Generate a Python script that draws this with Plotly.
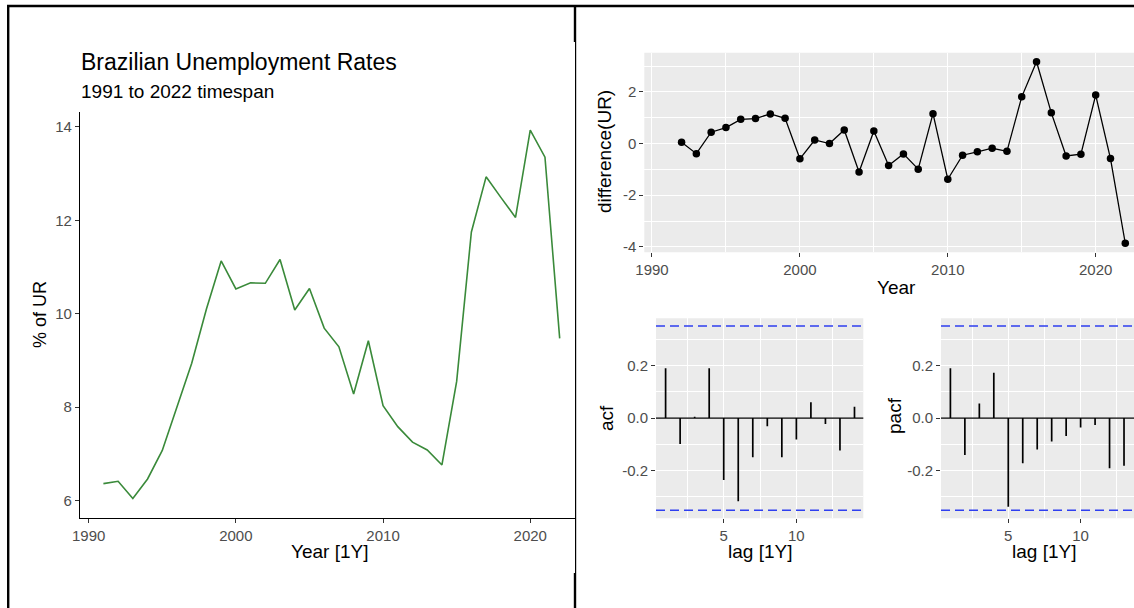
import plotly.graph_objects as go

# ---- data -------------------------------------------------------------
years = list(range(1991, 2023))
ur = [6.36, 6.41, 6.04, 6.46, 7.07, 8.00, 8.94, 10.10, 11.13, 10.53,
      10.66, 10.65, 11.16, 10.08, 10.54, 9.69, 9.29, 8.28, 9.42, 8.03,
      7.58, 7.25, 7.08, 6.76, 8.55, 11.75, 12.93, 12.49, 12.06, 13.93,
      13.35, 9.47]

diff_years = list(range(1992, 2023))
ur_diff = [0.05, -0.39, 0.44, 0.62, 0.94, 0.97, 1.15, 0.98, -0.59, 0.14,
           0.00, 0.53, -1.10, 0.49, -0.85, -0.40, -0.99, 1.16, -1.38, -0.45,
           -0.32, -0.18, -0.30, 1.81, 3.17, 1.19, -0.48, -0.41, 1.88, -0.58,
           -3.86]

acf_lags = list(range(1, 15))
acf_vals = [0.19, -0.099, 0.005, 0.19, -0.237, -0.318, -0.150, -0.031,
            -0.150, -0.082, 0.060, -0.023, -0.124, 0.043]

pacf_lags = list(range(1, 14))
pacf_vals = [0.19, -0.141, 0.056, 0.173, -0.339, -0.173, -0.120, -0.090,
             -0.069, -0.036, -0.027, -0.192, -0.182]

ci_bound = 0.352

year_ticks = [1990, 2000, 2010, 2020]
ur_ticks = [6, 8, 10, 12, 14]
diff_ticks = [-4, -2, 0, 2]
diff_tick_text = ["-4", "-2", "0", "2"]
cf_ticks = [-0.2, 0.0, 0.2]
cf_tick_text = ["-0.2", "0.0", "0.2"]
lag_ticks = [5, 10]

# ---- helpers ----------------------------------------------------------
W, H = 1134, 608
FONT = "Liberation Sans, Arial, Helvetica, sans-serif"
TICK_COL = "#4d4d4d"
PANEL = "#ebebeb"


def fx(px):
    return px / W


def fy(py):
    return 1 - py / H


def stems(lags, vals):
    xs, ys = [], []
    for l, v in zip(lags, vals):
        xs += [l, l, None]
        ys += [0, v, None]
    return xs, ys


fig = go.Figure()

# left: unemployment level
fig.add_trace(go.Scatter(x=years, y=ur, mode="lines",
                         line=dict(color="#3a8a3a", width=1.6),
                         xaxis="x", yaxis="y", showlegend=False))

# top right: differenced series
fig.add_trace(go.Scatter(x=diff_years, y=ur_diff, mode="lines+markers",
                         line=dict(color="black", width=1.3),
                         marker=dict(color="black", size=7.5),
                         xaxis="x2", yaxis="y2", showlegend=False))

# acf / pacf stems
ax, ay = stems(acf_lags, acf_vals)
fig.add_trace(go.Scatter(x=ax, y=ay, mode="lines",
                         line=dict(color="black", width=1.7),
                         xaxis="x3", yaxis="y3", showlegend=False))
px_, py_ = stems(pacf_lags, pacf_vals)
fig.add_trace(go.Scatter(x=px_, y=py_, mode="lines",
                         line=dict(color="black", width=1.7),
                         xaxis="x4", yaxis="y4", showlegend=False))

tickfont = dict(family=FONT, size=15, color=TICK_COL)

classic = dict(showline=True, linecolor="black", linewidth=1.1,
               ticks="outside", ticklen=4, tickcolor="#333333", tickwidth=1,
               showgrid=False, zeroline=False, tickfont=tickfont,
               automargin=False)

grey_axis = dict(showline=False, ticks="outside", ticklen=4,
                 tickcolor="#333333", tickwidth=1, showgrid=True,
                 gridcolor="white", gridwidth=1.2, zeroline=False,
                 tickfont=tickfont, automargin=False)

fig.update_layout(
    width=W, height=H, autosize=False,
    margin=dict(l=0, r=0, t=0, b=0, pad=0, autoexpand=False),
    paper_bgcolor="white", plot_bgcolor="white",
    font=dict(family=FONT, color="black"),
    xaxis=dict(domain=[fx(80), fx(575)], range=[1989.41, 2023.04],
               anchor="y", tickvals=year_ticks, **classic),
    yaxis=dict(domain=[fy(517.5), fy(111.7)], range=[5.635, 14.325],
               anchor="x", tickvals=ur_ticks, **classic),
    xaxis2=dict(domain=[fx(644.3), 1.0], range=[1989.48, 2022.59],
                anchor="y2", tickvals=year_ticks,
                minor=dict(tickvals=[1995, 2005, 2015], showgrid=True,
                           gridcolor="white", gridwidth=0.6, ticks=""),
                **grey_axis),
    yaxis2=dict(domain=[fy(252.3), fy(52.7)], range=[-4.21, 3.52],
                anchor="x2", tickvals=diff_ticks, ticktext=diff_tick_text,
                minor=dict(tickvals=[-3, -1, 1, 3], showgrid=True,
                           gridcolor="white", gridwidth=0.6, ticks=""),
                **grey_axis),
    xaxis3=dict(domain=[fx(656), fx(863.3)], range=[0.339, 14.606],
                anchor="y3", tickvals=lag_ticks,
                minor=dict(tickvals=[2.5, 7.5, 12.5], showgrid=True,
                           gridcolor="white", gridwidth=0.6, ticks=""),
                **grey_axis),
    yaxis3=dict(domain=[fy(518.3), fy(318.3)], range=[-0.383, 0.381],
                anchor="x3", tickvals=cf_ticks, ticktext=cf_tick_text,
                minor=dict(tickvals=[-0.3, -0.1, 0.1, 0.3], showgrid=True,
                           gridcolor="white", gridwidth=0.6, ticks=""),
                **grey_axis),
    xaxis4=dict(domain=[fx(941), 1.0], range=[0.35, 13.69],
                anchor="y4", tickvals=lag_ticks,
                minor=dict(tickvals=[2.5, 7.5, 12.5], showgrid=True,
                           gridcolor="white", gridwidth=0.6, ticks=""),
                **grey_axis),
    yaxis4=dict(domain=[fy(518.3), fy(318.3)], range=[-0.383, 0.381],
                anchor="x4", tickvals=cf_ticks, ticktext=cf_tick_text,
                minor=dict(tickvals=[-0.3, -0.1, 0.1, 0.3], showgrid=True,
                           gridcolor="white", gridwidth=0.6, ticks=""),
                **grey_axis),
)

shapes = []
# grey panel backgrounds
for n in ("2", "3", "4"):
    shapes.append(dict(type="rect", xref=f"x{n} domain", yref=f"y{n} domain",
                       x0=0, x1=1, y0=0, y1=1, fillcolor=PANEL,
                       line=dict(width=0), layer="below"))
# zero lines and significance bounds on the correlograms
for n in ("3", "4"):
    shapes.append(dict(type="line", xref=f"x{n} domain", yref=f"y{n}",
                       x0=0, x1=1, y0=0, y1=0,
                       line=dict(color="black", width=1.3)))
    for b in (ci_bound, -ci_bound):
        shapes.append(dict(type="line", xref=f"x{n} domain", yref=f"y{n}",
                           x0=0, x1=1, y0=b, y1=b,
                           line=dict(color="#2f3ff0", width=1.5,
                                     dash="9px,5px")))

# outer frame and divider
frame = dict(xref="paper", yref="paper", type="line", layer="above")
shapes += [
    dict(x0=fx(7), x1=1.0, y0=fy(6), y1=fy(6),
         line=dict(color="black", width=2.5), **frame),
    dict(x0=fx(8.2), x1=fx(8.2), y0=fy(5), y1=0,
         line=dict(color="black", width=2.4), **frame),
    dict(x0=fx(575), x1=fx(575), y0=fy(5), y1=fy(42),
         line=dict(color="black", width=2.4), **frame),
    dict(x0=fx(575.6), x1=fx(575.6), y0=fy(42), y1=fy(573),
         line=dict(color="black", width=1.2), **frame),
    dict(x0=fx(575), x1=fx(575), y0=fy(573), y1=0,
         line=dict(color="black", width=2.4), **frame),
]
fig.update_layout(shapes=shapes)


def label(text, x, y, size=19, angle=0, xanchor="center", color="black"):
    return dict(text=text, x=fx(x), y=fy(y), xref="paper", yref="paper",
                showarrow=False, textangle=angle, xanchor=xanchor,
                yanchor="middle",
                font=dict(family=FONT, size=size, color=color))


fig.update_layout(annotations=[
    label("Brazilian Unemployment Rates", 79, 62, size=23, xanchor="left"),
    label("1991 to 2022 timespan", 79, 92, size=19, xanchor="left"),
    label("% of UR", 40, 315, size=18, angle=-90),
    label("Year [1Y]", 329, 551),
    label("difference(UR)", 604, 152, angle=-90),
    label("Year", 896, 288),
    label("acf", 606, 418, angle=-90),
    label("lag [1Y]", 760, 551),
    label("pacf", 894, 416, angle=-90),
    label("lag [1Y]", 1044, 551),
])

# remove the default page margin so the figure sits at the window origin
page_setup = ("document.body.style.margin='0';"
              "document.body.style.overflow='hidden';")

fig.write_html("out.html", post_script=page_setup)
